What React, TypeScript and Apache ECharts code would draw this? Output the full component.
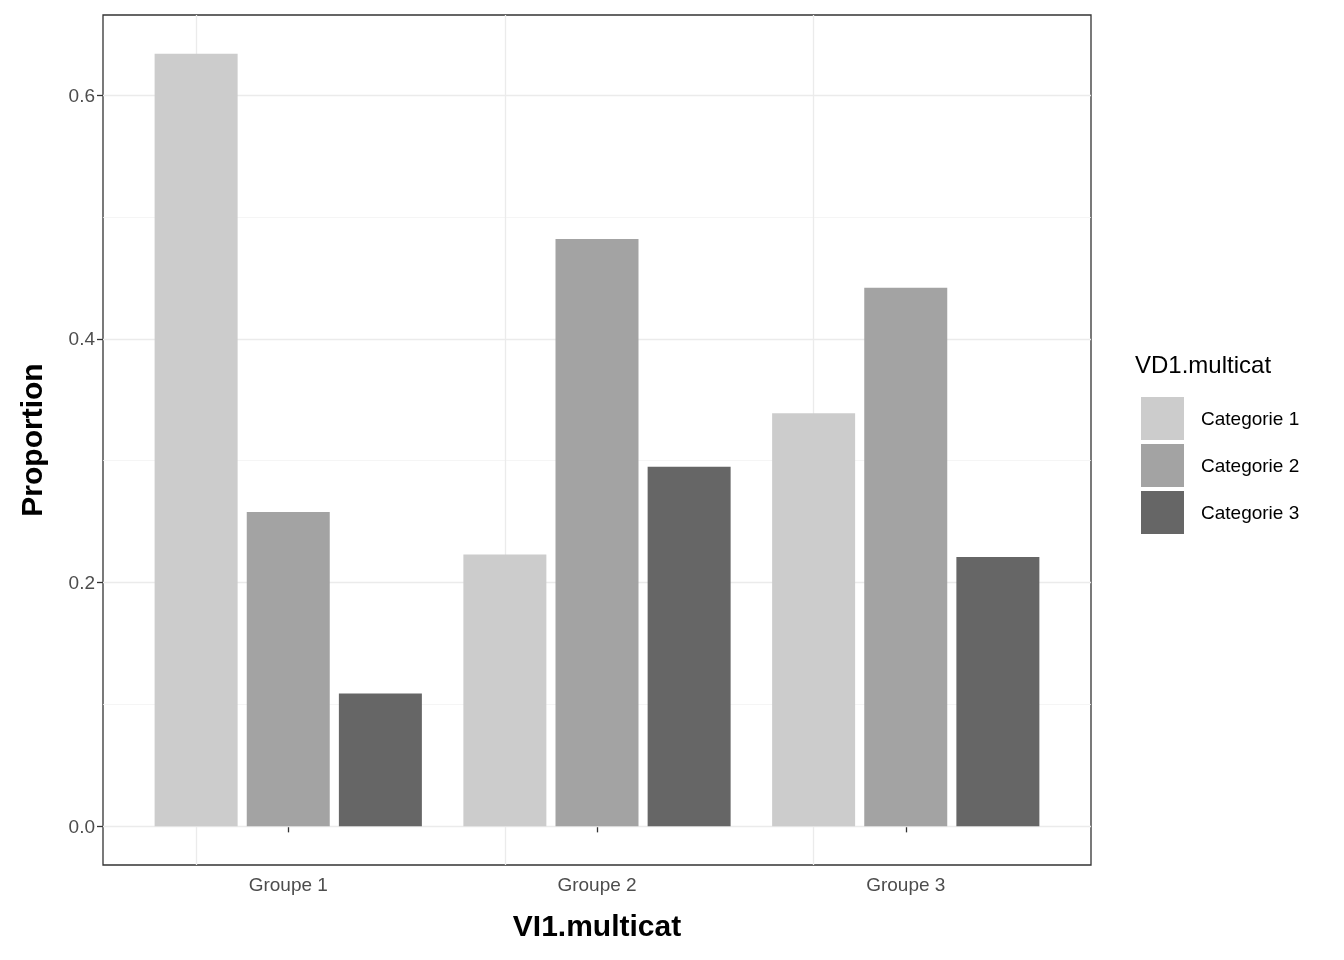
import { useEffect, useRef } from "react";
import * as echarts from "echarts";

const groups = ["Groupe 1", "Groupe 2", "Groupe 3"];
const categories = ["Categorie 1", "Categorie 2", "Categorie 3"];
const colors = ["#cccccc", "#a3a3a3", "#666666"];
const values = [
  [0.634, 0.223, 0.339],
  [0.258, 0.482, 0.442],
  [0.109, 0.295, 0.221],
];
const majorTicks = [0, 0.2, 0.4, 0.6];
const minorTicks = [0.1, 0.3, 0.5];
const groupPos = [1, 2, 3];

export default function App() {
  const ref = useRef<HTMLDivElement>(null);

  useEffect(() => {
    if (!ref.current) return;
    const chart = echarts.init(ref.current, null, { renderer: "svg" });
    const gridLines = [
      ...majorTicks.map((v) => ({ yAxis: v, lineStyle: { color: "#ebebeb", width: 1.3, type: "solid" } })),
      ...minorTicks.map((v) => ({ yAxis: v, lineStyle: { color: "#f2f2f2", width: 0.8, type: "solid" } })),
      ...groupPos.map((g) => ({ xAxis: g, lineStyle: { color: "#ebebeb", width: 1.3, type: "solid" } })),
    ];
    chart.setOption({
      animation: false,
      textStyle: { fontFamily: "Liberation Sans, Arial, sans-serif" },
      grid: { left: 103, right: 253, top: 15, bottom: 95, show: true, borderColor: "#333", borderWidth: 1.3 },
      legend: {
        orient: "vertical",
        left: 1136,
        top: 392,
        itemWidth: 43,
        itemHeight: 43,
        itemGap: 4,
        icon: "rect",
        textStyle: { fontSize: 19, color: "#000", padding: [0, 0, 0, 12] },
        data: categories,
      },
      graphic: [
        { type: "text", left: 1135, top: 352, style: { text: "VD1.multicat", fontSize: 24, fill: "#000", fontFamily: "Liberation Sans, Arial, sans-serif" } },
      ],
      xAxis: {
        type: "value",
        min: 0.4,
        max: 3.6,
        name: "VI1.multicat",
        nameLocation: "middle",
        nameGap: 45,
        nameTextStyle: { fontSize: 30, fontWeight: "bold", color: "#000" },
        axisLine: { show: false },
        axisTick: { show: true, length: 6, customValues: groupPos, lineStyle: { color: "#333", width: 1.3 } },
        axisLabel: {
          fontSize: 19,
          color: "#4d4d4d",
          margin: 10,
          customValues: groupPos,
          formatter: (v: number) => groups[Math.round(v) - 1] ?? "",
        },
        splitLine: { show: false },
      },
      yAxis: {
        type: "value",
        min: -0.0317,
        max: 0.6657,
        name: "Proportion",
        nameLocation: "middle",
        nameGap: 57,
        nameTextStyle: { fontSize: 30, fontWeight: "bold", color: "#000" },
        axisLine: { show: false },
        axisTick: { show: true, length: 6, customValues: majorTicks, lineStyle: { color: "#333", width: 1.3 } },
        axisLabel: {
          fontSize: 19,
          color: "#4d4d4d",
          customValues: majorTicks,
          formatter: (v: number) => v.toFixed(1),
        },
        splitLine: { show: false },
      },
      series: categories.map((c, i) => ({
        name: c,
        type: "bar",
        data: values[i].map((v, j) => [groupPos[j], v]),
        barWidth: 83,
        barGap: "11%",
        itemStyle: { color: colors[i] },
        z: 3,
        ...(i === 0
          ? { markLine: { silent: true, symbol: "none", label: { show: false }, data: gridLines, z: 1 } }
          : {}),
      })),
    });
    return () => chart.dispose();
  }, []);

  return <div ref={ref} style={{ position: "fixed", left: 0, top: 0, width: 1344, height: 960 }} />;
}
